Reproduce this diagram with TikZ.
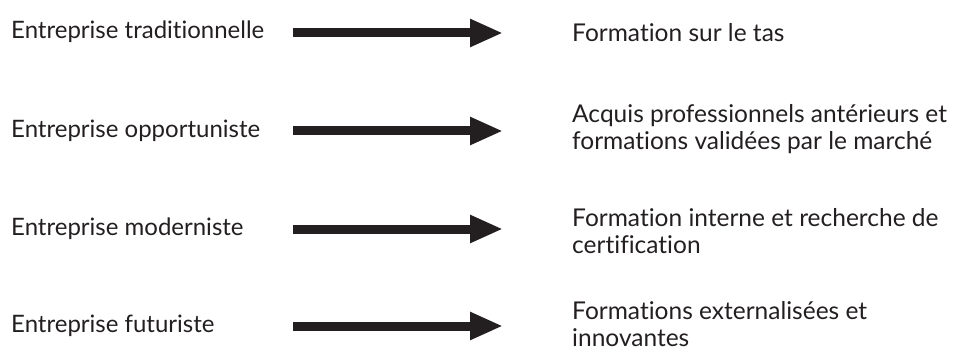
\documentclass[tikz,border=0pt]{standalone}
\usepackage{fontspec}
\setmainfont[Ligatures=NoCommon]{Lato}
\usetikzlibrary{arrows.meta,positioning}
\definecolor{Ink}{HTML}{231F20}

\begin{document}
\begin{tikzpicture}[x=1pt,y=1pt,
    firm/.style={anchor=west,inner sep=0pt,text=Ink,font=\fontsize{24}{27}\selectfont},
    train/.style={anchor=west,inner sep=0pt,align=left,text=Ink,font=\fontsize{24.5}{27}\selectfont},
    link/.style={draw=Ink,line width=9pt,shorten >=69pt,-{Triangle[length=33pt,width=26pt]}}]
    \useasboundingbox (0,0) rectangle (971,351);
    \node[firm] (f1) at (11,319) {Entreprise traditionnelle};
    \node[firm] (f2) at (11,220) {Entreprise opportuniste};
    \node[firm] (f3) at (11,122) {Entreprise moderniste};
    \node[firm] (f4) at (11,25) {Entreprise futuriste};
    \node[train] (t1) at (572,318) {Formation sur le tas};
    \node[train] (t2) at (572,222) {Acquis professionnels antérieurs et\\formations validées par le marché};
    \node[train] (t3) at (572,120) {Formation interne et recherche de\\certification};
    \node[train] (t4) at (572,27) {Formations externalisées et\\innovantes};
    \foreach \r/\y in {1/318,2/220,3/122,4/25}\coordinate (a\r) at (293,\y);
    \foreach \r in {1,...,4}\draw[link] (a\r)--(a\r -| t\r.west);
\end{tikzpicture}
\end{document}
